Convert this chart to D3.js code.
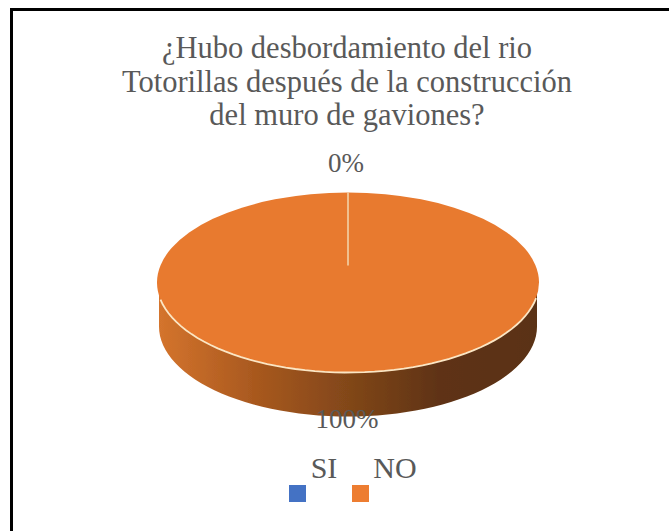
<!DOCTYPE html>
<html><head><meta charset="utf-8">
<script src="https://cdn.jsdelivr.net/npm/d3@7"></script>
<style>html,body{margin:0;padding:0;background:#fff}svg{display:block}text{font-family:"Liberation Serif",serif;fill:#595959}</style>
</head><body><svg id="c" width="669" height="531"></svg>
<script>
const categories = ["SI","NO"];
const values = [0,100];
const labels = ["0%","100%"];
const titleLines = ["¿Hubo desbordamiento del rio","Totorillas después de la construcción","del muro de gaviones?"];
const colors = ["#4472C4","#ED7D31"];
const faceColor = "#E87A2F";

const svg = d3.select("#c");
const W=669,H=531;
svg.append("rect").attr("width",W).attr("height",H).attr("fill","#fff");
svg.append("path").attr("d","M11.5,531V9.5H669").attr("fill","none").attr("stroke","#000").attr("stroke-width",3);

titleLines.forEach((t,i)=>svg.append("text").attr("x",347).attr("y",58+i*33.5)
  .attr("text-anchor","middle").attr("font-size",30.5).text(t));

const cx=348,cy=282.5,rx=191,ry=90,depth=44;
const defs=svg.append("defs");
const grad=defs.append("linearGradient").attr("id","side").attr("x1","0").attr("x2","1").attr("y1","0").attr("y2","0");
[[0,"#D4742D"],[0.25,"#A9591F"],[0.55,"#7A4318"],[0.75,"#5E3213"],[1,"#5A3012"]].forEach(s=>grad.append("stop").attr("offset",s[0]).attr("stop-color",s[1]));
const blur=defs.append("filter").attr("id","soft").attr("x","-5%").attr("y","-5%").attr("width","110%").attr("height","110%");
blur.append("feGaussianBlur").attr("stdDeviation",0.5);

const pie=d3.pie().sort(null).value(d=>d)(values);
const arc=d3.arc().innerRadius(0).outerRadius(1);
const sx=d3.scaleLinear().domain([-1,1]).range([cx-rx,cx+rx]);
const sy=d3.scaleLinear().domain([-1,1]).range([cy-ry,cy+ry]);

const half=d3.range(0,181,3).map(a=>{const t=a*Math.PI/180;return [Math.cos(t),Math.sin(t)];});
const wall=d3.line().x(d=>d[0]).y(d=>d[1]);
const inset=2;
const wallTop=half.map(p=>[sx(p[0])-inset*p[0],sy(p[1])]);
const wallBot=half.map(p=>[sx(p[0])-inset*p[0],sy(p[1])+depth]).reverse();
svg.append("path").attr("d",wall(wallTop.concat(wallBot))+"Z").attr("fill","url(#side)").attr("filter","url(#soft)");

svg.selectAll("path.slice").data(pie).join("path").attr("class","slice")
  .attr("transform",`translate(${cx},${cy}) scale(${rx},${ry})`)
  .attr("d",arc).attr("fill",(d,i)=>i===1?faceColor:colors[i]).attr("stroke","none");
const rim=d3.range(10,172,3).map(a=>{const t=a*Math.PI/180;return [sx(Math.cos(t)),sy(Math.sin(t))];});
svg.append("path").attr("d",wall(rim)).attr("fill","none").attr("stroke","#FBE6C4").attr("stroke-width",1.8);
const y0=sy(-1), y1=y0+73;
svg.append("line").attr("x1",sx(0)).attr("x2",sx(0)).attr("y1",y0).attr("y2",y1).attr("stroke","#F3D9B0").attr("stroke-width",1.5);

svg.append("text").attr("x",346).attr("y",172).attr("text-anchor","middle").attr("font-size",27).text(labels[0]);
svg.append("text").attr("x",347).attr("y",428).attr("text-anchor","middle").attr("font-size",27).text(labels[1]);

const legX=[289,352], textX=[324,395];
categories.forEach((c,i)=>{
  svg.append("text").attr("x",textX[i]).attr("y",478).attr("text-anchor","middle").attr("font-size",30).text(c);
  svg.append("rect").attr("x",legX[i]).attr("y",485).attr("width",17).attr("height",17).attr("fill",colors[i]);
});
</script></body></html>
